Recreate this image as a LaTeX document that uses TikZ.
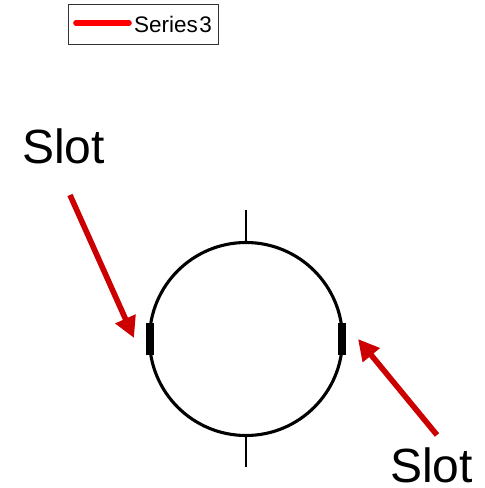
\documentclass[tikz,border=0pt]{standalone}
\usepackage{fontspec}
\setmainfont{Liberation Sans}
\usetikzlibrary{arrows.meta}
\definecolor{arrowred}{RGB}{204,0,0}
\definecolor{legendred}{RGB}{255,0,0}
\tikzset{
  slotlabel/.style={inner sep=0pt,anchor=base west,font=\fontsize{48}{50}\selectfont},
  slotbar/.style={fill=black,draw=none,minimum width=8pt,minimum height=32pt,inner sep=0pt,outer sep=0pt},
  redarrow/.style={draw=arrowred,line width=5.6pt,-{Triangle[length=21pt,width=21pt,fill=arrowred]}},
  wire/.style={draw=black,line width=1.8pt},
  ring/.style={circle,draw=black,line width=3.1pt,minimum size=193pt,inner sep=0pt,outer sep=0pt}
}
\begin{document}
\begin{tikzpicture}[x=1pt,y=-1pt]
\useasboundingbox (0,0) rectangle (485,488);
\node[ring] (ring) at (246,339) {};
\coordinate (topend) at (246,210);
\coordinate (botend) at (246,467);
\draw[wire] (topend) -- (ring.north);
\draw[wire] (ring.south) -- (botend);
\node[slotbar] (slotL) at (150,339) {};
\node[slotbar] (slotR) at (342,339) {};
\node[slotlabel] (labL) at (22,163) {Slot};
\node[slotlabel] (labR) at (390,482) {Slot};
\coordinate (startL) at (70,195);
\coordinate (tipL) at (134,338);
\coordinate (startR) at (437,435);
\coordinate (tipR) at (358,339);
\draw[redarrow] (startL) -- (tipL);
\draw[redarrow] (startR) -- (tipR);
\node[draw=black!80,line width=0.9pt,minimum width=149.5pt,minimum height=40pt,inner sep=0pt] (legend) at (143.25,24) {};
\coordinate (legA) at (76,23);
\coordinate (legB) at (129,23);
\draw[draw=legendred,line width=5.6pt,line cap=round] (legA) -- (legB);
\node[inner sep=0pt,anchor=base west,font=\fontsize{22.5}{24}\selectfont] (legtext) at (134,32) {Series\kern1.5pt 3};
\end{tikzpicture}
\end{document}
